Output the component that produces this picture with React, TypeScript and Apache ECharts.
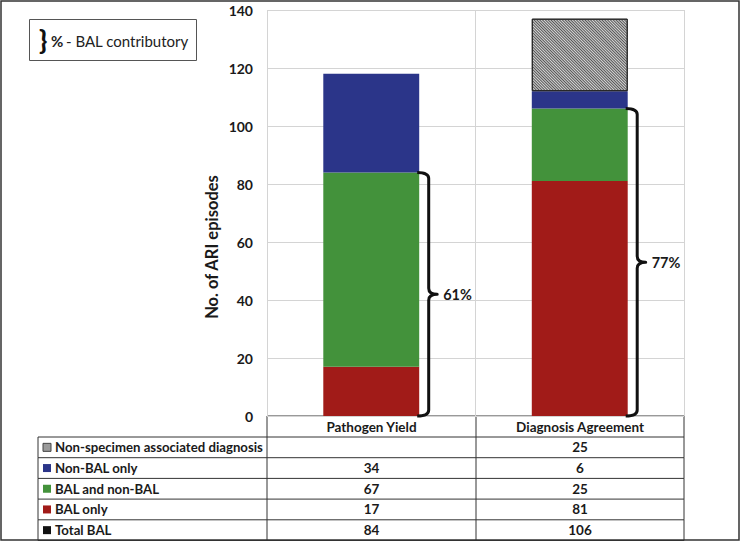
import React, { useEffect, useRef } from "react";
import * as echarts from "echarts";

const categories = ["Pathogen Yield", "Diagnosis Agreement"];
const balOnly = [17, 81];
const balAndNonBal = [67, 25];
const nonBalOnly = [34, 6];
const nonSpecimen: (number | null)[] = [null, 25];
const totalBAL = [84, 106];
const balPct = [61, 77];
const yTicks = { min: 0, max: 140, interval: 20 };

const RED = "#A11B18";
const GREEN = "#43923B";
const BLUE = "#2B3589";
const FONT = "Lato, 'Open Sans', sans-serif";
const BAR_W = 0.46;

export default function App() {
  const ref = useRef<HTMLDivElement>(null);
  useEffect(() => {
    if (!ref.current) return;
    const chart = echarts.init(ref.current, undefined, { renderer: "svg" });

    const gridLeft = 267, gridRight = 684, gridTop = 10, plotBottom = 416;
    const labelLeft = 38;
    const colEdges = [labelLeft, gridLeft, 476, gridRight];
    const headerH = 21, rowH = 20.7;

    const tableRows = [
      { label: "Non-specimen associated diagnosis", values: nonSpecimen, swatch: "hatch" },
      { label: "Non-BAL only", values: nonBalOnly, swatch: BLUE },
      { label: "BAL and non-BAL", values: balAndNonBal, swatch: GREEN },
      { label: "BAL only", values: balOnly, swatch: RED },
      { label: "Total BAL", values: totalBAL, swatch: "#111" },
    ];

    const lineStyle = { stroke: "#333", lineWidth: 1 };
    const g: any[] = [];
    const hline = (x1: number, x2: number, y: number) =>
      g.push({ type: "line", shape: { x1, y1: y, x2, y2: y }, style: lineStyle, silent: true });
    const vline = (x: number, y1: number, y2: number) =>
      g.push({ type: "line", shape: { x1: x, y1, x2: x, y2 }, style: lineStyle, silent: true });

    const cellFont = `bold 13.5px ${FONT}`;
    const labelFont = `bold 13.2px ${FONT}`;
    // header row
    const hTop = plotBottom, hBot = plotBottom + headerH;
    hline(gridLeft, gridRight, hTop);
    vline(gridLeft, hTop, hBot);
    vline(colEdges[2], hTop, hBot);
    vline(gridRight, hTop, hBot);
    categories.forEach((c, i) => {
      g.push({
        type: "text",
        x: (colEdges[i + 1] + colEdges[i + 2]) / 2,
        y: (hTop + hBot) / 2,
        style: { text: c, font: cellFont, fill: "#1a1a1a", textAlign: "center", textVerticalAlign: "middle" },
      });
    });
    // body rows
    tableRows.forEach((r, ri) => {
      const top = hBot + ri * rowH;
      const bot = top + rowH;
      const mid = (top + bot) / 2;
      hline(labelLeft, gridRight, top);
      if (ri === tableRows.length - 1) hline(labelLeft, gridRight, bot);
      colEdges.forEach((x) => vline(x, top, bot));
      if (r.swatch === "hatch") {
        g.push({ type: "rect", shape: { x: 43, y: mid - 4, width: 8, height: 8 }, style: { fill: "#9a9a9a", stroke: "#444", lineWidth: 1 } });
      } else {
        g.push({ type: "rect", shape: { x: 43, y: mid - 4, width: 8, height: 8 }, style: { fill: r.swatch } });
      }
      g.push({
        type: "text", x: 55, y: mid,
        style: { text: r.label, font: labelFont, fill: "#1a1a1a", textAlign: "left", textVerticalAlign: "middle" },
      });
      r.values.forEach((v, ci) => {
        if (v == null) return;
        g.push({
          type: "text", x: (colEdges[ci + 1] + colEdges[ci + 2]) / 2, y: mid,
          style: { text: String(v), font: cellFont, fill: "#1a1a1a", textAlign: "center", textVerticalAlign: "middle" },
        });
      });
    });

    // outer frame
    g.push({ type: "rect", shape: { x: 1, y: 1, width: 738, height: 539 }, style: { fill: "none", stroke: "#333", lineWidth: 1.5 }, silent: true });
    // legend box
    g.push({ type: "rect", shape: { x: 29.5, y: 19.5, width: 167, height: 41 }, style: { fill: "#fff", stroke: "#555", lineWidth: 1 } });
    g.push({ type: "text", x: 39, y: 39, style: { text: "}", font: `900 27px ${FONT}`, fill: "#111", textVerticalAlign: "middle" } });
    g.push({ type: "text", x: 51, y: 41, style: { text: "%", font: `bold 15px ${FONT}`, fill: "#222", textVerticalAlign: "middle" } });
    g.push({ type: "text", x: 66, y: 41, style: { text: "- BAL contributory", font: `15px ${FONT}`, fill: "#222", textVerticalAlign: "middle" } });
    // y axis title
    g.push({
      type: "text", x: 212, y: 247, rotation: Math.PI / 2,
      style: { text: "No. of ARI episodes", font: `bold 16.5px ${FONT}`, fill: "#1a1a1a", textAlign: "center", textVerticalAlign: "middle" },
    });

    const braceData = categories.map((_, i) => [i, totalBAL[i], balPct[i]]);

    chart.setOption({
      animation: false,
      backgroundColor: "#fff",
      grid: { left: gridLeft, right: 742 - gridRight, top: gridTop, bottom: 542 - plotBottom, containLabel: false },
      xAxis: {
        type: "category",
        data: categories,
        axisLabel: { show: false },
        axisTick: { show: false },
        axisLine: { show: false },
        splitLine: { show: true, lineStyle: { color: "#d4d4d4", width: 1 } },
      },
      yAxis: {
        type: "value",
        min: yTicks.min,
        max: yTicks.max,
        interval: yTicks.interval,
        axisLine: { show: false },
        axisTick: { show: false },
        axisLabel: { margin: 14, fontFamily: FONT, fontWeight: "bold", fontSize: 14, color: "#1a1a1a" },
        splitLine: { lineStyle: { color: "#d4d4d4", width: 1 } },
      },
      series: [
        { name: "BAL only", type: "bar", stack: "s", barWidth: `${BAR_W * 100}%`, data: balOnly, itemStyle: { color: RED } },
        { name: "BAL and non-BAL", type: "bar", stack: "s", data: balAndNonBal, itemStyle: { color: GREEN } },
        { name: "Non-BAL only", type: "bar", stack: "s", data: nonBalOnly, itemStyle: { color: BLUE } },
        {
          name: "Non-specimen associated diagnosis", type: "bar", stack: "s", data: nonSpecimen,
          itemStyle: {
            color: "#d6d6d6", borderColor: "#222", borderWidth: 1,
            decal: { symbol: "rect", symbolSize: 1, dashArrayX: [1, 0], dashArrayY: [1, 1], rotation: Math.PI / 4, color: "#555", backgroundColor: "#d6d6d6" },
          },
        },
        {
          type: "custom",
          z: 10,
          encode: { x: 0, y: 1 },
          data: braceData,
          renderItem: (params: any, api: any) => {
            const cat = api.value(0);
            const top = api.value(1);
            const pct = api.value(2);
            const pTop = api.coord([cat, top]);
            const pBot = api.coord([cat, 0]);
            const bandW = api.size([1, 0])[0];
            const barRight = pTop[0] + (bandW * BAR_W) / 2;
            const x0 = barRight - 2, x1 = barRight + 9.5, x2 = barRight + 18;
            const yT = pTop[1], yB = pBot[1], yM = (yT + yB) / 2, r = 6;
            const d = `M${x0} ${yT} Q${x1} ${yT} ${x1} ${yT + r} L${x1} ${yM - r} Q${x1} ${yM} ${x2} ${yM} Q${x1} ${yM} ${x1} ${yM + r} L${x1} ${yB - r} Q${x1} ${yB} ${x0} ${yB}`;
            return {
              type: "group",
              children: [
                { type: "path", shape: { pathData: d }, style: { fill: "none", stroke: "#111", lineWidth: 3, lineJoin: "round" } },
                { type: "text", x: barRight + 24, y: yM, style: { text: `${pct}%`, font: `bold 14.5px ${FONT}`, fill: "#1a1a1a", textVerticalAlign: "middle" } },
              ],
            };
          },
        },
      ],
      graphic: { elements: g },
    });
    return () => chart.dispose();
  }, []);
  return <div ref={ref} style={{ position: "fixed", left: 0, top: 0, width: 742, height: 542, background: "#fff" }} />;
}
